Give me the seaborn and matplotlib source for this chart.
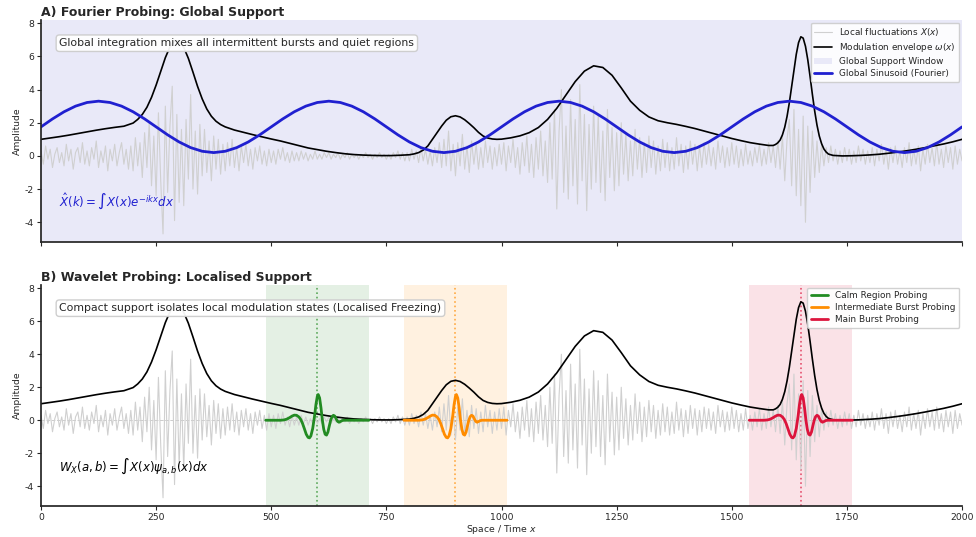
import numpy as np
import pandas as pd
import matplotlib
matplotlib.use("Agg")
import matplotlib.pyplot as plt
from matplotlib.ticker import FuncFormatter
import seaborn as sns
from matplotlib.patches import Patch
from matplotlib.lines import Line2D

# ---------------- data ----------------
# Local fluctuations X(x), sampled every 5 units from 0 to 2000
noise_vals = [
    0.3, -0.5, 0.6, -0.2, 0.4, -0.7, 0.1, 0.5, -0.4, 0.2,
    -0.6, 0.7, -0.3, 0.4, -0.8, 0.2, 0.5, -0.4, 0.8, -0.5,
    0.3, -0.6, 0.5, -0.2, 0.9, -0.7, 0.3, -0.4, 0.6, -0.9,
    0.4, -0.3, 0.7, -0.6, 0.2, 0.8, -0.5, 0.4, -0.8, 0.6,
    -0.9, 1.1, -0.6, 0.8, -1.3, 1.4, -0.7, 2.0, -1.8, 1.2,
    -2.4, 2.6, -1.5, -4.7, 3.0, -2.2, 1.8, 4.2, -3.9, 2.5,
    -2.8, 1.6, -3.0, 2.2, -1.4, 3.7, -2.0, 1.5, -2.3, 1.9,
    -1.2, 1.6, -1.0, 0.9, -1.5, 1.2, -0.8, 1.0, -1.1, 0.7,
    -0.9, 0.8, -0.6, 1.0, -0.7, 0.5, -0.9, 0.6, -0.4, 0.7,
    -0.6, 0.4, -0.8, 0.5, -0.3, 0.6, -0.5, 0.3, -0.6, 0.4,
    -0.4, 0.3, -0.5, 0.4, -0.2, 0.5, -0.3, 0.2, -0.4, 0.3,
    -0.3, 0.2, -0.3, 0.3, -0.2, 0.2, -0.3, 0.1, -0.2, 0.3,
    -0.2, 0.1, -0.2, 0.2, -0.1, 0.2, -0.2, 0.1, -0.1, 0.2,
    -0.2, 0.1, -0.1, 0.2, -0.2, 0.1, -0.1, 0.1, -0.2, 0.1,
    -0.1, 0.2, -0.1, 0.1, -0.2, 0.1, -0.1, 0.2, -0.1, 0.1,
    -0.2, 0.1, -0.2, 0.2, -0.1, 0.3, -0.2, 0.2, -0.3, 0.2,
    -0.3, 0.4, -0.2, 0.3, -0.4, 0.5, -0.3, 0.4, -0.5, 0.3,
    -0.6, 0.5, -0.4, 0.8, -0.7, 1.0, -0.6, 1.5, -0.9, 0.7,
    -1.2, 0.8, -0.6, 1.3, -0.8, 0.6, -1.0, 0.9, -0.5, 0.7,
    -0.8, 0.5, -0.7, 0.9, -0.4, 0.6, -0.8, 0.5, -0.6, 0.7,
    -0.5, 0.8, -0.9, 0.6, -0.4, 1.0, -0.7, 0.5, -1.1, 0.8,
    -0.6, 1.2, -1.0, 0.7, -1.3, 1.1, -0.8, 1.5, -1.2, 0.9,
    -1.6, 2.0, -1.4, 2.8, -3.2, 1.5, 4.0, -2.2, 1.8, -2.6,
    3.4, -1.8, 2.2, -2.9, 4.3, -1.5, 2.5, -3.3, 1.9, -2.0,
    3.0, -1.6, 2.4, -2.2, 1.5, -2.7, 2.8, -1.3, 1.7, -2.1,
    1.4, -1.8, 2.0, -1.1, 1.3, -1.5, 0.9, -1.2, 1.6, -0.8,
    1.1, -1.3, 0.8, -1.0, 1.2, -0.7, 0.9, -1.1, 0.6, -0.9,
    1.0, -0.7, 0.8, -0.9, 0.5, -0.8, 1.1, -0.6, 0.7, -1.0,
    0.6, -0.8, 0.9, -0.5, 0.7, -0.9, 0.6, -0.7, 0.8, -0.5,
    0.7, -0.6, 0.5, -0.8, 0.9, -0.4, 0.6, -0.7, 0.5, -0.6,
    0.8, -0.5, 0.6, -0.7, 0.4, -0.6, 0.7, -0.5, 0.3, -0.6,
    0.5, -0.4, 0.7, -0.6, 0.4, -0.5, 0.8, -0.4, 0.6, -0.7,
    0.9, -0.8, 1.2, -1.5, 1.0, 2.2, -1.8, 2.8, -2.4, 1.6,
    -3.0, 2.4, -4.0, 1.8, -2.2, 1.5, -1.3, 0.9, -1.0, 0.7,
    -0.6, 0.5, -0.4, 0.6, -0.3, 0.4, -0.5, 0.3, -0.4, 0.5,
    -0.3, 0.4, -0.5, 0.3, -0.4, 0.6, -0.3, 0.4, -0.5, 0.3,
    -0.4, 0.5, -0.6, 0.4, -0.3, 0.7, -0.5, 0.4, -0.8, 0.5,
    -0.4, 0.6, -0.5, 0.3, -0.7, 0.5, -0.4, 0.8, -0.6, 0.4,
    -0.5, 0.6, -0.9, 0.4, -0.5, 0.7, -0.4, 0.5, -0.6, 0.8,
    -0.5, 0.4, -0.7, 0.6, -0.4, 0.5, -0.8, 0.6, -0.5, 0.4,
    -0.3,
]

# Modulation envelope omega(x)
env_x = [0, 20, 40, 60, 80, 100, 120, 140, 160, 180, 200, 210, 220, 230, 240,
         250, 260, 270, 280, 290, 300, 310, 320, 330, 340, 350, 360, 370, 380,
         390, 400, 420, 440, 460, 480, 500, 520, 540, 560, 580, 600, 620, 640,
         660, 680, 700, 720, 740, 760, 780, 800, 810, 820, 830, 840, 850, 860,
         870, 880, 890, 900, 910, 920, 930, 940, 950, 960, 970, 980, 990, 1000,
         1020, 1040, 1060, 1080, 1100, 1120, 1140, 1160, 1180, 1200, 1220,
         1240, 1260, 1280, 1300, 1320, 1340, 1360, 1380, 1400, 1420, 1440,
         1460, 1480, 1500, 1520, 1540, 1560, 1580, 1590, 1595, 1600, 1605,
         1610, 1615, 1620, 1625, 1630, 1635, 1640, 1645, 1650, 1655, 1660,
         1665, 1670, 1675, 1680, 1685, 1690, 1695, 1700, 1705, 1710, 1720,
         1740, 1760, 1780, 1800, 1820, 1840, 1860, 1880, 1900, 1920, 1940,
         1960, 1980, 2000]
env_y = [1.0, 1.08, 1.16, 1.25, 1.35, 1.45, 1.55, 1.64, 1.72, 1.79, 1.98, 2.2,
         2.5, 2.93, 3.53, 4.27, 5.1, 5.92, 6.57, 6.94, 6.93, 6.54, 5.88, 5.05,
         4.19, 3.44, 2.83, 2.39, 2.09, 1.89, 1.75, 1.56, 1.42, 1.28, 1.15, 1.02,
         0.9, 0.76, 0.62, 0.48, 0.38, 0.28, 0.2, 0.13, 0.08, 0.05, 0.03, 0.02,
         0.02, 0.04, 0.07, 0.12, 0.2, 0.35, 0.6, 1.0, 1.4, 1.8, 2.15, 2.36,
         2.42, 2.35, 2.18, 1.95, 1.7, 1.42, 1.2, 1.08, 1.02, 1.0, 1.01,
         1.09, 1.21, 1.4, 1.71, 2.2, 2.87, 3.67, 4.48, 5.11, 5.43, 5.33,
         4.86, 4.1, 3.3, 2.75, 2.35, 2.12, 2.0, 1.9, 1.78, 1.65, 1.5,
         1.35, 1.2, 1.05, 0.92, 0.8, 0.71, 0.63, 0.63, 0.69, 0.79, 0.96,
         1.27, 1.73, 2.38, 3.21, 4.19, 5.2, 6.12, 6.83, 7.18, 7.1, 6.61,
         5.8, 4.79, 3.71, 2.71, 1.86, 1.2, 0.74, 0.42, 0.23, 0.11, 0.03,
         0.0, 0.01, 0.03, 0.06, 0.1, 0.16, 0.23, 0.31, 0.4, 0.5, 0.61,
         0.72, 0.85, 1.0]

# Global sinusoid (Fourier), sampled every 25 units from 0 to 2000
sin_vals = [
    1.75, 2.23, 2.66, 3.00, 3.22, 3.30, 3.22, 3.00, 2.66, 2.23,
    1.75, 1.27, 0.84, 0.50, 0.28, 0.20, 0.28, 0.50, 0.84, 1.27,
    1.75, 2.23, 2.66, 3.00, 3.22, 3.30, 3.22, 3.00, 2.66, 2.23,
    1.75, 1.27, 0.84, 0.50, 0.28, 0.20, 0.28, 0.50, 0.84, 1.27,
    1.75, 2.23, 2.66, 3.00, 3.22, 3.30, 3.22, 3.00, 2.66, 2.23,
    1.75, 1.27, 0.84, 0.50, 0.28, 0.20, 0.28, 0.50, 0.84, 1.27,
    1.75, 2.23, 2.66, 3.00, 3.22, 3.30, 3.22, 3.00, 2.66, 2.23,
    1.75, 1.27, 0.84, 0.50, 0.28, 0.20, 0.28, 0.50, 0.84, 1.27,
    1.75,
]

# Wavelet profile (offset from probe centre, value)
wavelet_offset = [-112, -80, -72, -66, -60, -55, -50, -45, -40, -36, -32, -28,
                  -24, -20, -17, -14, -10, -6, -3, 0, 2, 5, 8, 11, 14, 17, 20,
                  23, 26, 29, 32, 35, 38, 41, 44, 47, 50, 54, 58, 112]
wavelet_value = [0.0, 0.0, 0.02, 0.07, 0.16, 0.25, 0.31, 0.3, 0.2, 0.05, -0.2,
                 -0.52, -0.85, -1.04, -1.07, -0.95, -0.5, 0.25, 0.95, 1.45,
                 1.56, 1.35, 0.75, 0.0, -0.55, -0.85, -0.9, -0.72, -0.35, 0.0,
                 0.22, 0.3, 0.25, 0.08, -0.07, -0.12, -0.08, -0.02, 0.0, 0.0]

probe_centers = [600, 900, 1650]
probe_names = ["Calm Region Probing", "Intermediate Burst Probing", "Main Burst Probing"]
probe_colors = ["forestgreen", "darkorange", "crimson"]
window_halfwidth = 112

x_ticks = [0, 250, 500, 750, 1000, 1250, 1500, 1750, 2000]
y_ticks = [-4, -2, 0, 2, 4, 6, 8]

# ---------------- styling ----------------
sns.set_theme(style="ticks")
plt.rcParams['font.family'] = ['DejaVu Sans']
plt.rcParams['mathtext.fontset'] = 'dejavusans'

noise_color = "#d0d0d0"
support_color = "#e9e9f8"
sin_color = "#2020d0"
fs_tick = 6.7
fs_leg = 6.4
fs_box = 7.8

fig = plt.figure(figsize=(9.76, 5.37), dpi=100)
ax1 = fig.add_axes([0.042, 0.549, 0.9437, 0.414])
ax2 = fig.add_axes([0.042, 0.0577, 0.9437, 0.4116], sharex=ax1)

noise_df = pd.DataFrame({"x": np.linspace(0, 2000, len(noise_vals)), "y": noise_vals})
env_df = pd.DataFrame({"x": env_x, "y": env_y})
sin_df = pd.DataFrame({"x": np.linspace(0, 2000, len(sin_vals)), "y": sin_vals})

leg_kw = dict(loc="upper right", fontsize=fs_leg, frameon=True, borderaxespad=0.3,
              framealpha=0.9, edgecolor="#cccccc", fancybox=True, labelspacing=0.35)

# ---- Panel A ----
ax1.axvspan(0, 2000, color=support_color, lw=0, zorder=0)
sns.lineplot(data=noise_df, x="x", y="y", ax=ax1, color=noise_color, lw=0.8,
             estimator=None, sort=False)
sns.lineplot(data=env_df, x="x", y="y", ax=ax1, color="black", lw=1.2,
             estimator=None, sort=False)
sns.lineplot(data=sin_df, x="x", y="y", ax=ax1, color=sin_color, lw=2.0,
             estimator=None, sort=False)

handles1 = [Line2D([], [], color=noise_color, lw=0.8),
            Line2D([], [], color="black", lw=1.2),
            Patch(facecolor=support_color, edgecolor="none"),
            Line2D([], [], color=sin_color, lw=2.0)]
labels1 = ["Local fluctuations $X(x)$", "Modulation envelope $\\omega(x)$",
           "Global Support Window", "Global Sinusoid (Fourier)"]
ax1.legend(handles1, labels1, **leg_kw)

ax1.text(0.02, 0.895, "Global integration mixes all intermittent bursts and quiet regions",
         transform=ax1.transAxes, fontsize=fs_box, va="center", ha="left", zorder=6,
         bbox=dict(boxstyle="round,pad=0.3", facecolor="white", edgecolor="#cccccc", alpha=0.95))
ax1.text(0.02, 0.18, r"$\hat{X}(k) = \int X(x) e^{-ikx} dx$", transform=ax1.transAxes,
         fontsize=8.5, color=sin_color, va="center", ha="left")
ax1.set_title("A) Fourier Probing: Global Support", loc="left", fontweight="bold",
              fontsize=9, pad=3)

# ---- Panel B ----
for c, col in zip(probe_centers, probe_colors):
    ax2.axvspan(c - window_halfwidth, c + window_halfwidth, color=col, alpha=0.12, lw=0, zorder=0)
    ax2.axvline(c, color=col, ls=":", lw=1.2, alpha=0.7, zorder=1)
ax2.axhline(0, color="gray", ls="--", lw=0.7, alpha=0.4, zorder=1)
sns.lineplot(data=noise_df, x="x", y="y", ax=ax2, color=noise_color, lw=0.8,
             estimator=None, sort=False)
sns.lineplot(data=env_df, x="x", y="y", ax=ax2, color="black", lw=1.2,
             estimator=None, sort=False)
handles2 = []
for c, col, name in zip(probe_centers, probe_colors, probe_names):
    wdf = pd.DataFrame({"x": np.asarray(wavelet_offset) + c, "y": wavelet_value})
    sns.lineplot(data=wdf, x="x", y="y", ax=ax2, color=col, lw=2.0,
                 estimator=None, sort=False)
    handles2.append(Line2D([], [], color=col, lw=2.0))
ax2.legend(handles2, probe_names, **leg_kw)

ax2.text(0.02, 0.895, "Compact support isolates local modulation states (Localised Freezing)",
         transform=ax2.transAxes, fontsize=fs_box, va="center", ha="left", zorder=6,
         bbox=dict(boxstyle="round,pad=0.3", facecolor="white", edgecolor="#cccccc", alpha=0.95))
ax2.text(0.02, 0.18, r"$W_X(a,b) = \int X(x) \psi_{a,b}(x) dx$", transform=ax2.transAxes,
         fontsize=8.5, color="black", va="center", ha="left")
ax2.set_title("B) Wavelet Probing: Localised Support", loc="left", fontweight="bold",
              fontsize=9, pad=3)

for ax in (ax1, ax2):
    ax.set_xlim(0, 2000)
    ax.set_ylim(-5.2, 8.2)
    ax.set_xticks(x_ticks)
    ax.set_yticks(y_ticks)
    ax.tick_params(labelsize=fs_tick, length=3, width=0.8, pad=2)
    ax.set_ylabel("Amplitude", fontsize=fs_tick, labelpad=2)
    sns.despine(ax=ax)
ax1.set_xlabel("")
ax1.tick_params(labelbottom=False)
ax2.set_xlabel("Space / Time $x$", fontsize=fs_tick, labelpad=1)
ax2.xaxis.set_major_formatter(FuncFormatter(lambda v, p: f"{int(round(v))}"))
ax2.yaxis.set_major_formatter(FuncFormatter(lambda v, p: f"{int(round(v))}"))
ax1.yaxis.set_major_formatter(FuncFormatter(lambda v, p: f"{int(round(v))}"))

fig.savefig("out.png", dpi=100)
